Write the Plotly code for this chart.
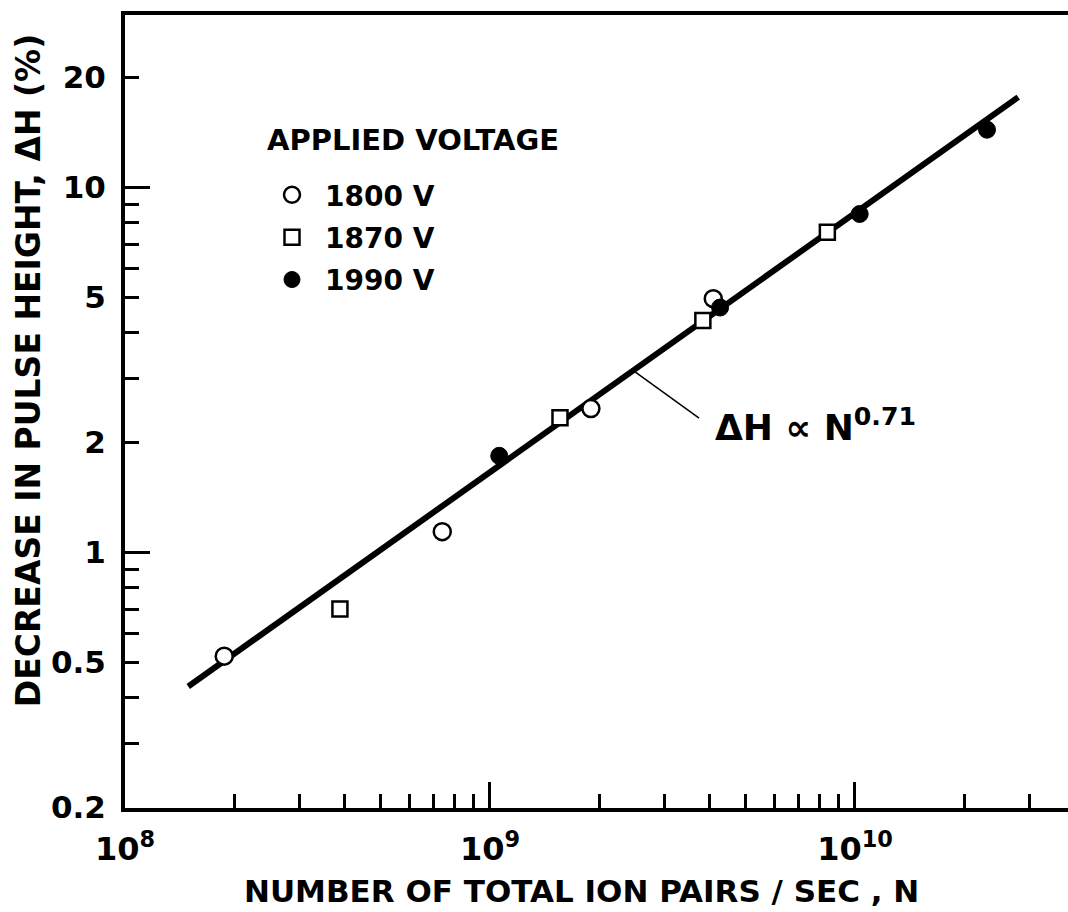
import math
import plotly.graph_objects as go

# Measured pulse-height decrease vs. ion-pair rate, by applied voltage
n_1800 = [1.87e8, 7.40e8, 1.89e9, 4.09e9]
dh_1800 = [0.52, 1.14, 2.48, 4.96]

n_1870 = [3.88e8, 1.555e9, 3.83e9, 8.40e9]
dh_1870 = [0.70, 2.34, 4.32, 7.54]

n_1990 = [1.06e9, 4.27e9, 1.03e10, 2.30e10]
dh_1990 = [1.84, 4.69, 8.46, 14.4]

# Power-law fit  dH = k * (N / 1e9) ** p
fit_exponent = 0.71
fit_k = 1.66
fit_n = [1.49e8, 2.80e10]
fit_dh = [fit_k * (n / 1e9) ** fit_exponent for n in fit_n]

# Leader from the fit line to its label
leader_n = [2.47e9, 3.74e9]
leader_dh = [3.15, 2.335]
label_n = 4.08e9
label_dh = 2.23

# Tick positions and labels
x_major = [1e8, 1e9, 1e10]
x_major_text = ["10<sup>8</sup>", "10<sup>9</sup>", "10<sup>10</sup>"]
x_minor = [2e8, 3e8, 4e8, 5e8, 6e8, 7e8, 8e8, 9e8,
           2e9, 3e9, 4e9, 5e9, 6e9, 7e9, 8e9, 9e9,
           2e10, 3e10]
y_labelled = [0.2, 0.5, 1, 2, 5, 10, 20]
y_labelled_text = ["0.2", "0.5", "1", "2", "5", "10", "20"]
y_minor = [0.3, 0.4, 0.6, 0.7, 0.8, 0.9, 3, 4, 6, 7, 8, 9]
y_decades = [1, 10]

FONT = "DejaVu Sans"
INK = "black"

x_range = [8.0, 10.5836]
y_range = [-0.70, 1.4726]


def bold(size):
    return dict(family=FONT, size=size, color=INK, weight="bold")


fig = go.Figure()

fig.add_trace(go.Scatter(
    x=fit_n, y=fit_dh, mode="lines",
    line=dict(color=INK, width=6), showlegend=False, hoverinfo="skip",
))
fig.add_trace(go.Scatter(
    x=leader_n, y=leader_dh, mode="lines",
    line=dict(color=INK, width=1.5), showlegend=False, hoverinfo="skip",
))

marker_line = dict(color=INK, width=2.5)
fig.add_trace(go.Scatter(
    x=n_1800, y=dh_1800, mode="markers", name="1800 V", legendgroup="a",
    marker=dict(symbol="circle", size=17, color="white", line=marker_line),
))
fig.add_trace(go.Scatter(
    x=n_1870, y=dh_1870, mode="markers", name="1870 V", legendgroup="b",
    marker=dict(symbol="square", size=15, color="white", line=marker_line),
))
fig.add_trace(go.Scatter(
    x=n_1990, y=dh_1990, mode="markers", name="1990 V", legendgroup="c",
    marker=dict(symbol="circle", size=17, color=INK, line=dict(color=INK, width=1)),
))

# Empty trace that carries the overlay axes used for the long decade ticks
fig.add_trace(go.Scatter(x=[], y=[], xaxis="x2", yaxis="y2",
                         showlegend=False, hoverinfo="skip"))

# Fit label
fig.add_annotation(
    x=math.log10(label_n), y=math.log10(label_dh), xref="x", yref="y",
    text="ΔH ∝ N<sup>0.71</sup>", showarrow=False,
    xanchor="left", yanchor="middle", font=bold(36),
)
# Legend heading
fig.add_annotation(
    x=0.1485, y=0.8424, xref="paper", yref="paper",
    text="APPLIED VOLTAGE", showarrow=False,
    xanchor="left", yanchor="middle", font=bold(29),
)
# Axis titles
fig.add_annotation(
    x=-0.1029, y=0.552, xref="paper", yref="paper",
    text="DECREASE IN PULSE HEIGHT, ΔH (%)", showarrow=False, textangle=-90,
    xanchor="center", yanchor="middle", font=bold(33),
)
fig.add_annotation(
    x=0.4846, y=-0.1047, xref="paper", yref="paper",
    text="NUMBER OF TOTAL ION PAIRS / SEC , N", showarrow=False,
    xanchor="center", yanchor="middle", font=bold(31),
)

fig.update_layout(
    width=1068, height=912,
    margin=dict(l=125, r=0, t=15, b=104),
    paper_bgcolor="white", plot_bgcolor="white",
    showlegend=True,
    legend=dict(
        font=bold(28),
        x=0.1421, y=0.8045, xanchor="left", yanchor="top",
        bgcolor="rgba(0,0,0,0)", tracegroupgap=3, itemwidth=56,
    ),
    xaxis=dict(
        type="log", range=x_range,
        showline=True, linewidth=4, linecolor=INK, mirror=True,
        showgrid=False, zeroline=False,
        ticks="inside", ticklen=14, tickwidth=2.5, tickcolor=INK,
        tickmode="array", tickvals=x_major, ticktext=x_major_text,
        tickfont=bold(32), ticklabelstandoff=10,
        minor=dict(tickmode="array", tickvals=x_minor, ticks="inside",
                   ticklen=14, tickwidth=2.5, tickcolor=INK, showgrid=False),
    ),
    yaxis=dict(
        type="log", range=y_range,
        showline=True, linewidth=4, linecolor=INK, mirror=False,
        showgrid=False, zeroline=False,
        ticks="inside", ticklen=14, tickwidth=2.5, tickcolor=INK,
        tickmode="array", tickvals=y_labelled, ticktext=y_labelled_text,
        tickfont=bold(31), ticklabelstandoff=9,
        minor=dict(tickmode="array", tickvals=y_minor, ticks="inside",
                   ticklen=14, tickwidth=2.5, tickcolor=INK, showgrid=False),
    ),
    xaxis2=dict(
        type="log", range=x_range, overlaying="x", anchor="y2", side="bottom",
        showline=False, showgrid=False, zeroline=False,
        ticks="inside", ticklen=26, tickwidth=2.5, tickcolor=INK,
        tickmode="array", tickvals=[1e9, 1e10], showticklabels=False,
    ),
    yaxis2=dict(
        type="log", range=y_range, overlaying="y", anchor="x2", side="left",
        showline=False, showgrid=False, zeroline=False,
        ticks="inside", ticklen=25, tickwidth=2.5, tickcolor=INK,
        tickmode="array", tickvals=y_decades, showticklabels=False,
    ),
)

fig.write_html("out.html")
